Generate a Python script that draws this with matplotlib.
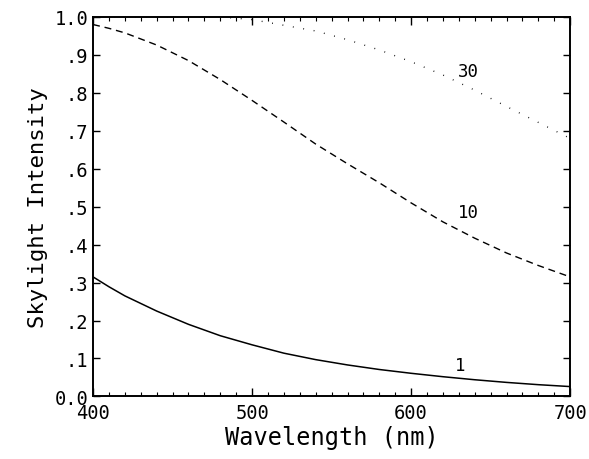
import matplotlib
matplotlib.use('Agg')
import matplotlib.pyplot as plt
from matplotlib.ticker import MultipleLocator

plt.rcParams['font.family'] = 'DejaVu Sans Mono'

# wavelength samples (nm)
wavelength = [400, 410, 420, 440, 460, 480, 500, 520, 540, 560, 580, 600, 620, 640, 660, 680, 700]

# skylight intensity for each curve (label = value)
curve_1 = [0.315, 0.289, 0.265, 0.225, 0.19, 0.16, 0.136, 0.114, 0.097, 0.083, 0.071, 0.061, 0.052, 0.044, 0.037, 0.031, 0.026]
curve_10 = [0.98, 0.97, 0.958, 0.926, 0.885, 0.835, 0.78, 0.723, 0.665, 0.613, 0.563, 0.51, 0.46, 0.417, 0.378, 0.345, 0.315]
curve_30 = [1.0, 1.0, 1.0, 1.0, 1.0, 1.0, 0.993, 0.978, 0.963, 0.94, 0.913, 0.882, 0.847, 0.807, 0.764, 0.722, 0.68]

x_ticks = [400, 500, 600, 700]
y_ticks = [0.0, 0.1, 0.2, 0.3, 0.4, 0.5, 0.6, 0.7, 0.8, 0.9, 1.0]
y_tick_labels = ['0.0', '.1', '.2', '.3', '.4', '.5', '.6', '.7', '.8', '.9', '1.0']

# curve labels: (text, wavelength, intensity)
curve_labels = [('30', 636, 0.858), ('10', 636, 0.485), ('1', 631, 0.082)]

fig = plt.figure(figsize=(5.89, 4.60), dpi=100)
ax = fig.add_axes([0.158, 0.136, 0.81, 0.825])

ax.plot(wavelength, curve_1, color='black', lw=1.1, ls='-')
ax.plot(wavelength, curve_10, color='black', lw=1.0, dashes=(5, 3.5))
ax.plot(wavelength, curve_30, color='black', lw=1.0, dashes=(0.6, 7))

for txt, wl, val in curve_labels:
    ax.text(wl, val, txt, fontsize=12.5, ha='center', va='center')

ax.set_xlim(400, 700)
ax.set_ylim(0, 1.0)
ax.set_xticks(x_ticks)
ax.xaxis.set_minor_locator(MultipleLocator(10))
ax.set_yticks(y_ticks)
ax.set_yticklabels(y_tick_labels)

ax.tick_params(which='both', direction='in', top=True, right=True, colors='black')
ax.tick_params(axis='x', which='major', length=6, width=1.0)
ax.tick_params(axis='x', which='minor', length=3, width=0.8)
ax.tick_params(axis='y', which='major', length=5, width=1.0)
ax.tick_params(axis='x', labelsize=13.5, pad=5)
ax.tick_params(axis='y', labelsize=13.5, pad=3.5)

for sp in ax.spines.values():
    sp.set_linewidth(1.4)

ax.set_xlabel('Wavelength (nm)', fontsize=17, labelpad=2)
ax.set_ylabel('Skylight Intensity', fontsize=16, labelpad=5)

fig.savefig('out.png', dpi=100)
